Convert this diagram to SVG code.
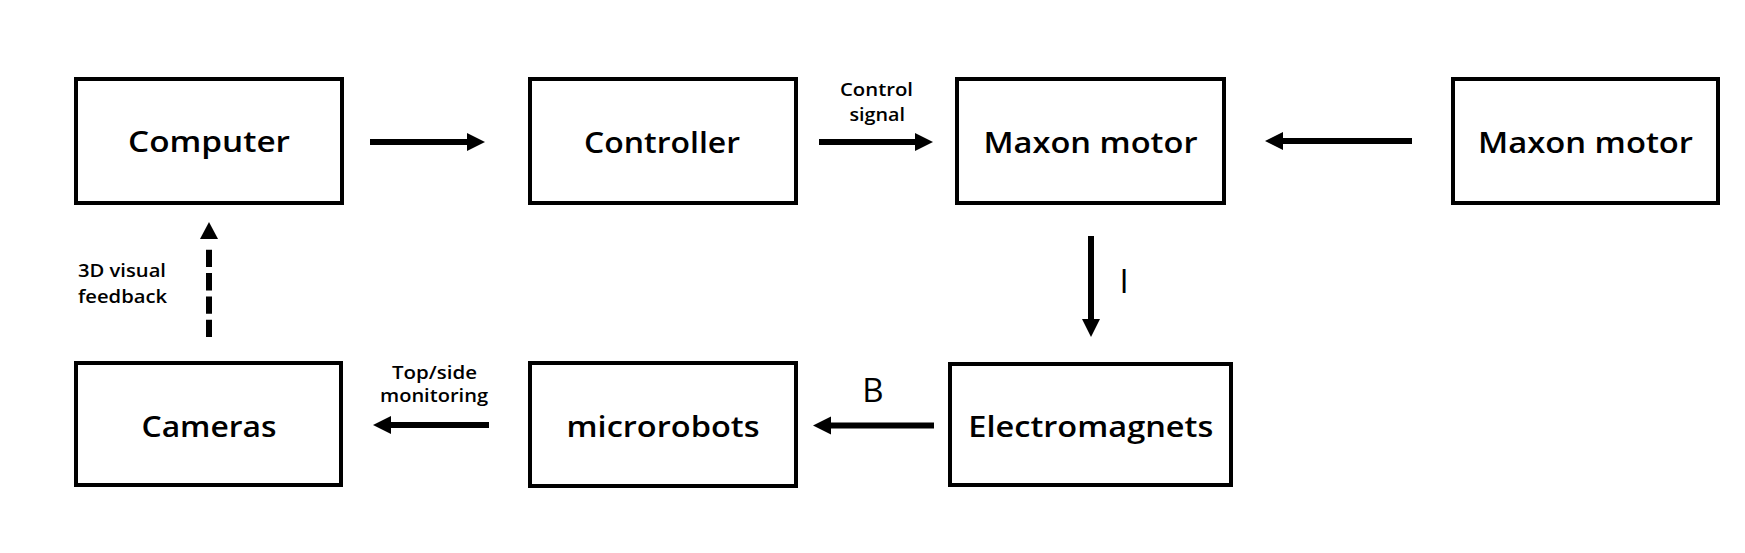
<svg xmlns="http://www.w3.org/2000/svg" width="1745" height="553" viewBox="0 0 1745 553">
<style>
.box{fill:#fff;stroke:#000;stroke-width:4}
.lbl{font-family:"Open Sans","Noto Sans","DejaVu Sans",sans-serif;font-weight:600;font-size:28px;fill:#000;text-anchor:middle}
.sm{font-family:"Open Sans","Noto Sans","DejaVu Sans",sans-serif;font-weight:600;font-size:18px;fill:#000}
.big{font-family:"Open Sans","Noto Sans","DejaVu Sans",sans-serif;font-weight:500;font-size:33px;fill:#000;text-anchor:middle}
.ln{stroke:#000;stroke-width:6;fill:none}
.dash{stroke-dasharray:17.3 6}
</style>
<defs>
<marker id="ah" markerUnits="userSpaceOnUse" markerWidth="20" markerHeight="20" refX="0" refY="9" orient="auto">
<path d="M0,0 L18,9 L0,18 z" fill="#000"/>
</marker>
<marker id="ahgap" markerUnits="userSpaceOnUse" markerWidth="40" markerHeight="20" refX="-10" refY="9" orient="auto">
<path d="M0,0 L17,9 L0,18 z" fill="#000"/>
</marker>
</defs>
<rect width="1745" height="553" fill="#fff"/>
<g id="computer"><rect class="box" x="76" y="79" width="266" height="124"/><text class="lbl" x="209" y="152" textLength="162" lengthAdjust="spacingAndGlyphs">Computer</text></g>
<g id="controller"><rect class="box" x="530" y="79" width="266" height="124"/><text class="lbl" x="662" y="153" textLength="156" lengthAdjust="spacingAndGlyphs">Controller</text></g>
<g id="maxon1"><rect class="box" x="957" y="79" width="267" height="124"/><text class="lbl" x="1090.5" y="153" textLength="214" lengthAdjust="spacingAndGlyphs">Maxon motor</text></g>
<g id="maxon2"><rect class="box" x="1453" y="79" width="265" height="124"/><text class="lbl" x="1585.5" y="153" textLength="215" lengthAdjust="spacingAndGlyphs">Maxon motor</text></g>
<g id="cameras"><rect class="box" x="76" y="363" width="265" height="122"/><text class="lbl" x="209" y="437" textLength="135" lengthAdjust="spacingAndGlyphs">Cameras</text></g>
<g id="microrobots"><rect class="box" x="530" y="363" width="266" height="123"/><text class="lbl" x="663" y="437" textLength="193" lengthAdjust="spacingAndGlyphs">microrobots</text></g>
<g id="electromagnets"><rect class="box" x="950" y="364" width="281" height="121"/><text class="lbl" x="1090.8" y="437" textLength="245" lengthAdjust="spacingAndGlyphs">Electromagnets</text></g>
<g id="connectors">
<line class="ln" x1="370" y1="142" x2="467" y2="142" marker-end="url(#ah)"/>
<line class="ln" x1="819" y1="142" x2="915" y2="142" marker-end="url(#ah)"/>
<line class="ln" x1="1412" y1="141" x2="1283" y2="141" marker-end="url(#ah)"/>
<line class="ln" x1="1091" y1="236" x2="1091" y2="319" marker-end="url(#ah)"/>
<line class="ln" x1="934" y1="425.5" x2="831" y2="425.5" marker-end="url(#ah)"/>
<line class="ln" x1="489" y1="425" x2="391" y2="425" marker-end="url(#ah)"/>
<line class="ln dash" x1="209" y1="337" x2="209" y2="249" marker-end="url(#ahgap)"/>
<text class="sm" x="840" y="95.5" textLength="73" lengthAdjust="spacingAndGlyphs">Control</text>
<text class="sm" x="849.5" y="121" textLength="55.5" lengthAdjust="spacingAndGlyphs">signal</text>
<text class="sm" x="78" y="277" textLength="88" lengthAdjust="spacingAndGlyphs">3D visual</text>
<text class="sm" x="78" y="303" textLength="89" lengthAdjust="spacingAndGlyphs">feedback</text>
<text class="sm" x="392" y="379" textLength="85" lengthAdjust="spacingAndGlyphs">Top/side</text>
<text class="sm" x="380" y="402" textLength="108" lengthAdjust="spacingAndGlyphs">monitoring</text>
<text class="big" x="873" y="401.5">B</text>
<text class="big" x="1124" y="292.5">I</text>
</g>
</svg>
